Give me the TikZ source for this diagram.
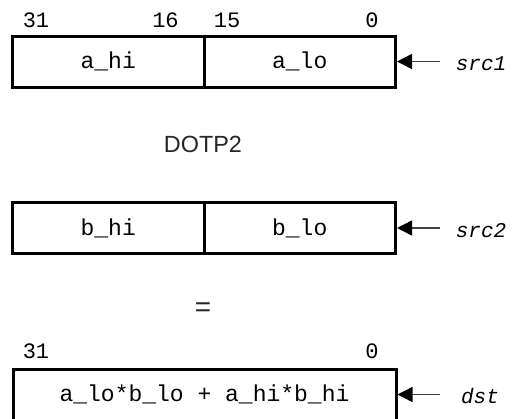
\documentclass[tikz,border=0pt]{standalone}
\usepackage{fontspec}
\setmainfont{Liberation Sans}
\newfontfamily\monof{Liberation Mono}
\usetikzlibrary{arrows.meta}
\begin{document}
\begin{tikzpicture}[x=1pt,y=-1pt,
  field/.style={draw=black, line width=3pt, minimum height=51pt, inner sep=0pt,
    font=\monof\fontsize{23}{26}\selectfont},
  half/.style={field, minimum width=191.5pt},
  whole/.style={field, minimum width=383pt},
  bitnum/.style={inner sep=0pt, font=\monof\fontsize{22}{24}\selectfont},
  reglabel/.style={inner sep=0pt, anchor=base, font=\monof\itshape\fontsize{21}{24}\selectfont},
  opname/.style={inner sep=0pt, text=black!85, font=\fontsize{23.4}{26}\selectfont},
  feed/.style={draw=black!75, line width=1.4pt,
    -{Triangle[length=15pt,width=15pt,color=black,fill=black]}}
]
\useasboundingbox (0,0) rectangle (514,418);

% bit numbers, top
\node[bitnum] (n31a) at (36,20.5) {31};
\node[bitnum] (n16)  at (165.5,20.5) {16};
\node[bitnum] (n15)  at (227,20.5) {15};
\node[bitnum] (n0a)  at (372,20.5) {0};

% src1
\node[half] (ahi) at (108.25,61.5) {a\_hi};
\node[half] (alo) at (299.75,61.5) {a\_lo};
\coordinate (s1) at (440,61.5);
\draw[feed] (s1) -- (alo.east);
\node[reglabel] (src1) at (481,70) {src1};

\node[opname] (op) at (203,144.5) {DOTP2};

% src2
\node[half] (bhi) at (108.25,228) {b\_hi};
\node[half] (blo) at (299.75,228) {b\_lo};
\coordinate (s2) at (440,228);
\draw[feed] (s2) -- (blo.east);
\node[reglabel] (src2) at (481,237) {src2};

\node[opname, font=\fontsize{28}{30}\selectfont] (eq) at (203,310) {=};

% bit numbers, bottom
\node[bitnum] (n31b) at (36,351) {31};
\node[bitnum] (n0b)  at (372,351) {0};

% dst
\node[whole] (res) at (204.5,394.5) {a\_lo*b\_lo + a\_hi*b\_hi};
\coordinate (d1) at (440,394.5);
\draw[feed] (d1) -- (res.east);
\node[reglabel] (dst) at (480,403) {dst};
\end{tikzpicture}
\end{document}
